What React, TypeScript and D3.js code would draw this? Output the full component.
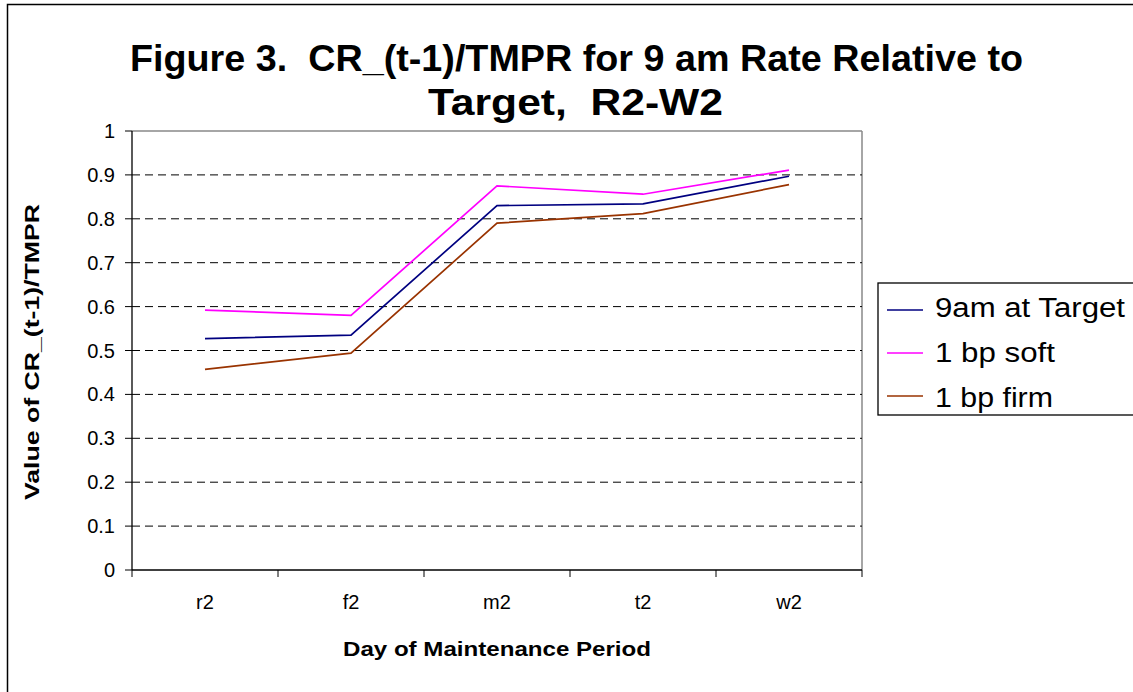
import React from "react";
import * as d3 from "d3";

const categories = ["r2", "f2", "m2", "t2", "w2"];
const seriesNames = ["9am at Target", "1 bp soft", "1 bp firm"];
const targetValues = [0.527, 0.535, 0.83, 0.834, 0.897];
const softValues = [0.592, 0.58, 0.875, 0.856, 0.911];
const firmValues = [0.457, 0.494, 0.79, 0.812, 0.878];
const seriesColors = ["#000080", "#FF00FF", "#993300"];
const yTicks = [0, 0.1, 0.2, 0.3, 0.4, 0.5, 0.6, 0.7, 0.8, 0.9, 1];
const legendTextWidths = [190, 120, 118];

const W = 1133;
const H = 692;
const plot = { left: 132, right: 862, top: 131, bottom: 570 };
const FONT = "Arial, 'Liberation Sans', sans-serif";

export default function App() {
  const x = d3
    .scaleBand<string>()
    .domain(categories)
    .range([plot.left, plot.right])
    .padding(0);
  const y = d3.scaleLinear().domain([0, 1]).range([plot.bottom, plot.top]);
  const line = d3
    .line<number>()
    .x((_, i) => (x(categories[i]) as number) + x.bandwidth() / 2)
    .y((d) => y(d));
  const allSeries = [targetValues, softValues, firmValues];
  const bounds = [plot.left, ...categories.map((c) => (x(c) as number) + x.bandwidth())];

  return (
    <svg
      width={W}
      height={H}
      style={{ position: "absolute", left: 0, top: 0, background: "#fff" }}
      fontFamily={FONT}
    >
      <rect x={0} y={0} width={W} height={H} fill="#fff" />
      {/* outer chart border (right/bottom off-screen) */}
      <rect x={7.5} y={4.5} width={W + 20} height={H + 20} fill="none" stroke="#000" strokeWidth={1.5} />

      {/* title */}
      <text
        x={130}
        y={71}
        fontSize={37}
        fontWeight="bold"
        fill="#000"
        textLength={893}
        lengthAdjust="spacingAndGlyphs"
        style={{ whiteSpace: "pre" }}
      >
        {"Figure 3.  CR_(t-1)/TMPR for 9 am Rate Relative to"}
      </text>
      <text
        x={428}
        y={115}
        fontSize={37}
        fontWeight="bold"
        fill="#000"
        textLength={295}
        lengthAdjust="spacingAndGlyphs"
        style={{ whiteSpace: "pre" }}
      >
        {"Target,  R2-W2"}
      </text>

      {/* plot area border top/right */}
      <line x1={plot.left} x2={plot.right} y1={plot.top} y2={plot.top} stroke="#888" strokeWidth={1.5} />
      <line x1={plot.right} x2={plot.right} y1={plot.top} y2={plot.bottom} stroke="#888" strokeWidth={1.5} />

      {/* gridlines */}
      {yTicks
        .filter((t) => t > 0 && t < 1)
        .map((t) => (
          <line
            key={t}
            x1={plot.left}
            x2={plot.right}
            y1={y(t)}
            y2={y(t)}
            stroke="#000"
            strokeWidth={1}
            strokeDasharray="8,5"
          />
        ))}

      {/* y axis */}
      <line x1={plot.left} x2={plot.left} y1={plot.top} y2={plot.bottom} stroke="#000" strokeWidth={1.3} />
      {yTicks.map((t) => (
        <g key={t}>
          <line x1={plot.left - 7} x2={plot.left} y1={y(t)} y2={y(t)} stroke="#000" />
          <text x={plot.left - 17} y={y(t) + 7} textAnchor="end" fontSize={20} fill="#000">
            {d3.format("")(+t.toFixed(1))}
          </text>
        </g>
      ))}

      {/* x axis */}
      <line x1={plot.left} x2={plot.right} y1={plot.bottom} y2={plot.bottom} stroke="#000" strokeWidth={1.3} />
      {bounds.map((b, i) => (
        <line key={i} x1={b} x2={b} y1={plot.bottom} y2={plot.bottom + 7} stroke="#000" />
      ))}
      {categories.map((c) => (
        <text
          key={c}
          x={(x(c) as number) + x.bandwidth() / 2}
          y={609}
          textAnchor="middle"
          fontSize={20}
          fill="#000"
        >
          {c}
        </text>
      ))}

      {/* axis titles */}
      <text
        x={343}
        y={656}
        fontSize={20}
        fontWeight="bold"
        fill="#000"
        textLength={308}
        lengthAdjust="spacingAndGlyphs"
      >
        Day of Maintenance Period
      </text>
      <text
        transform={`translate(39, 500) rotate(-90)`}
        fontSize={20}
        fontWeight="bold"
        fill="#000"
        textLength={296}
        lengthAdjust="spacingAndGlyphs"
      >
        Value of CR_(t-1)/TMPR
      </text>

      {/* series */}
      {allSeries.map((vals, i) => (
        <path key={i} d={line(vals) as string} fill="none" stroke={seriesColors[i]} strokeWidth={1.7} />
      ))}

      {/* legend */}
      <rect x={878} y={283} width={W} height={132} fill="#fff" stroke="#000" strokeWidth={1.3} />
      {seriesNames.map((n, i) => (
        <g key={n}>
          <line x1={887} x2={923} y1={310 + i * 43} y2={310 + i * 43} stroke={seriesColors[i]} strokeWidth={1.7} />
          <text
            x={935}
            y={317 + i * 45}
            fontSize={27}
            fill="#000"
            textLength={legendTextWidths[i]}
            lengthAdjust="spacingAndGlyphs"
          >
            {n}
          </text>
        </g>
      ))}
    </svg>
  );
}
